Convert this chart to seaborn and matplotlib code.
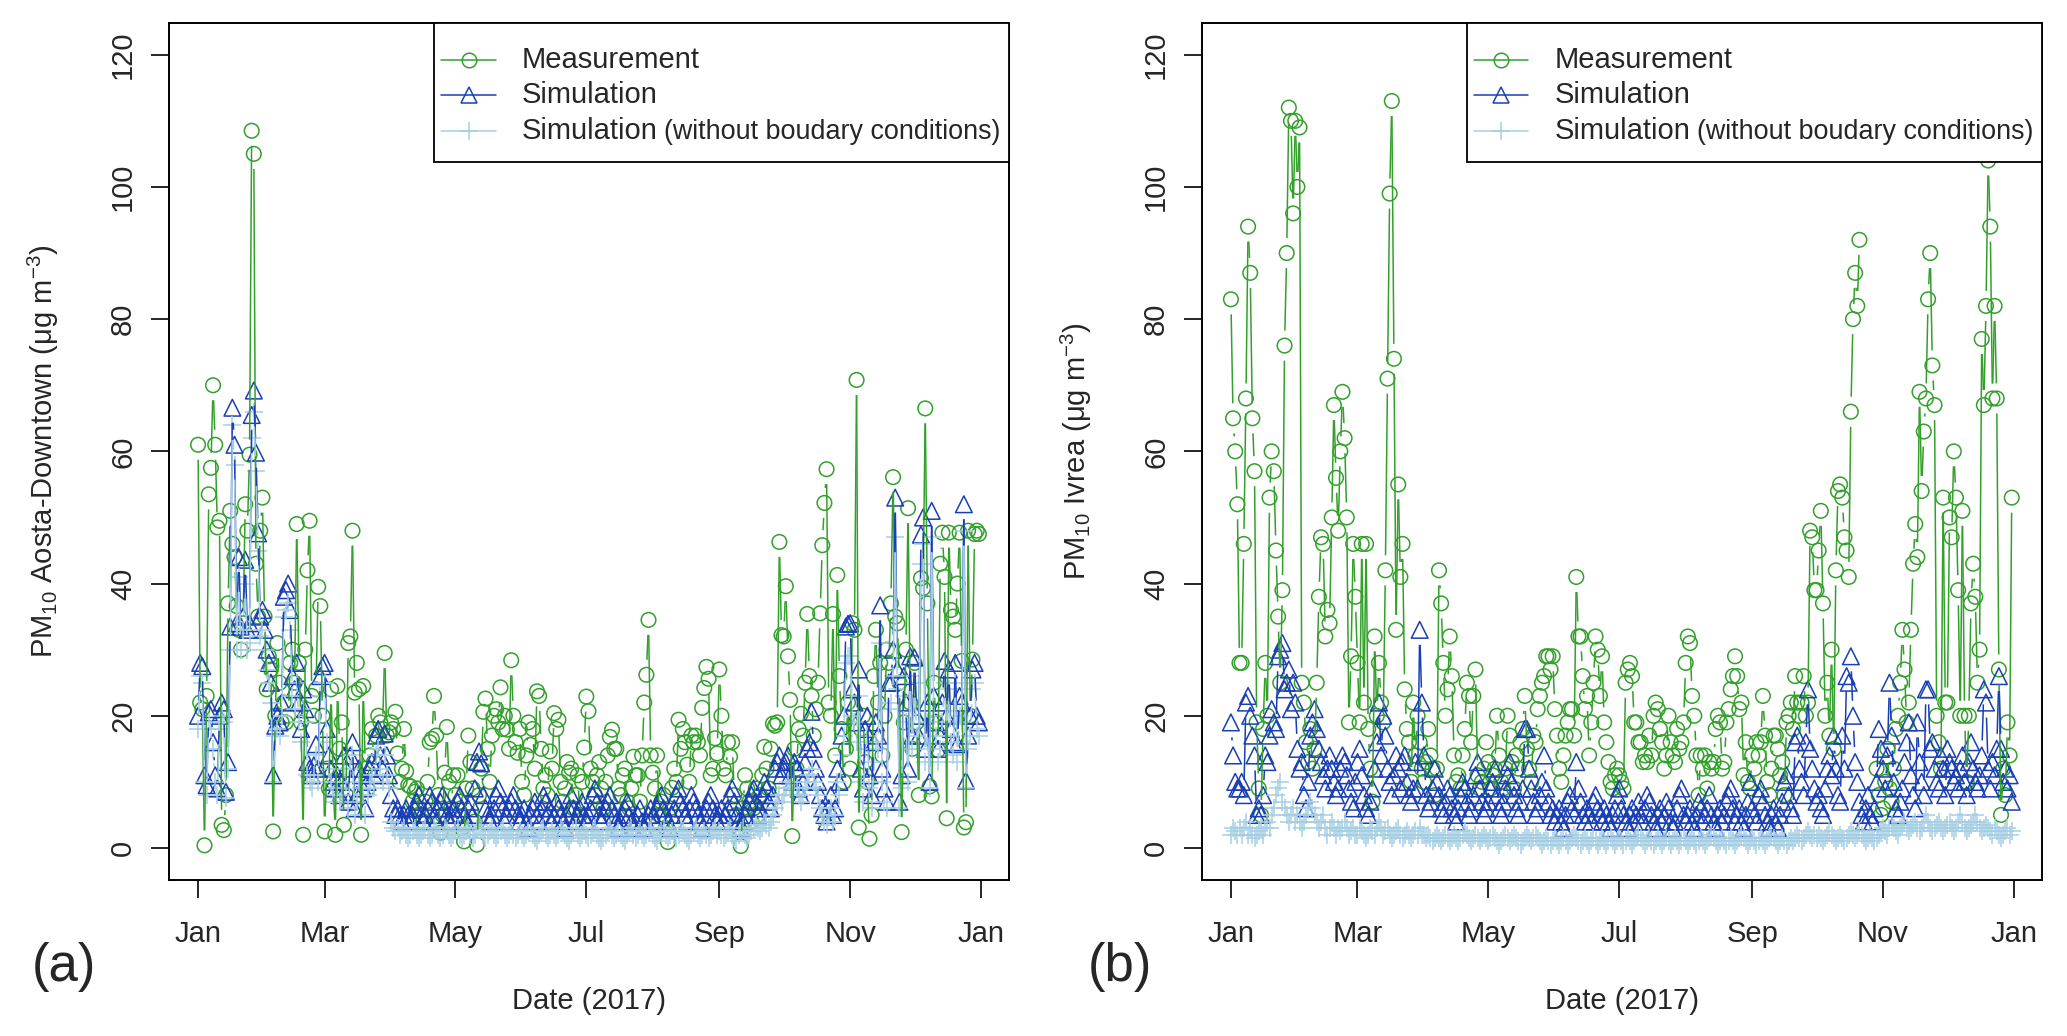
import numpy as np
import pandas as pd
import matplotlib
matplotlib.use("Agg")
import matplotlib.pyplot as plt
import seaborn as sns
from matplotlib.collections import LineCollection
from matplotlib.lines import Line2D
from matplotlib.offsetbox import AnchoredOffsetbox, HPacker, VPacker, TextArea, DrawingArea

GREEN = "#33a02c"
BLUE = "#1a3fb5"
LIGHT = "#a6cee3"

# daily PM10 (ug/m3), 2017, one row per month
meas_a = [
    61, 22, 21, 0.4, 23, 53.5, 57.5, 70, 61, 48.5, 49.5, 3.5, 2.7, 8, 37, 51, 46, 44, 36.6, 33, 30, 34, 52, 48, 59.5, 108.5, 105, 43, 35, 48, 53,
    35, 24, 29, 27, 2.5, 20, 31, 25, 19, 22, 19, 20, 28, 30, 25, 49, 28, 19, 2, 30, 42, 49.5, 23, 20, 24, 39.5, 36.6, 20,
    2.5, 12, 9, 24, 10, 2, 24.5, 15, 19, 3.5, 8, 31, 32, 48, 23.5, 28, 24, 2, 24.5, 12, 9, 14, 18, 13, 17, 20, 19, 18, 29.5, 17, 17.5,
    19, 18, 20.6, 14.3, 10, 12, 18, 11.6, 9.5, 9.3, 7, 8.5, 9, 6, 5, 4, 7, 10, 16, 16.5, 23, 17, 8, 2.3, 5, 11.4, 18.3, 10, 6, 11,
    8, 11, 7, 3, 1, 9, 17, 13, 9, 4, 0.5, 8, 12, 20.6, 22.6, 15, 10, 17, 20, 21, 19, 24.3, 18, 20, 17.9, 15, 28.4, 20, 16, 14.4, 18,
    10, 8, 14, 19, 15.6, 18, 12, 23.7, 23, 15, 9, 11, 8, 14.6, 12, 20.4, 18, 19.4, 10, 7, 9, 13, 11.4, 12, 6, 8, 11, 5, 10, 15.2,
    22.9, 20.7, 12, 10, 8, 11, 13, 9, 6, 10, 14, 16.8, 17.9, 15, 15, 9, 8, 11, 12, 7, 6, 9, 13.8, 11, 11, 7, 14, 22, 26.2, 34.5, 14,
    11.4, 9, 14, 5, 7, 8, 3, 0.9, 6, 9.1, 12, 10, 19.4, 15, 18, 16, 12.6, 10, 17, 16, 17, 16, 14, 21.2, 24.2, 27.4, 25.6, 11, 12, 16.6, 14.3,
    27, 20, 12, 11, 16, 13.8, 16, 8, 5, 3, 0.3, 6, 11, 9, 7, 4, 6, 9, 5, 8, 11, 15.3, 12, 9, 15, 18.8, 18.5, 19, 46.3, 32.2,
    32, 39.6, 29, 22.4, 1.8, 15, 12, 18, 20.3, 17, 25, 35.4, 26, 23, 17, 21, 25, 35.5, 45.8, 52.2, 57.3, 22, 20, 35.4, 14, 41.3, 26, 18, 10, 15, 22,
    12, 34, 33, 70.8, 3.1, 18, 20, 13, 10, 1.4, 5, 26, 33, 22, 28, 14, 20, 30, 28, 37, 56.1, 35, 34, 25, 2.4, 19, 30, 51.4, 22, 15,
    28, 19, 8, 40.8, 39.3, 66.5, 37, 9.3, 7.8, 25, 19, 14.8, 43, 47.7, 41, 4.5, 47.7, 36, 35, 33, 40, 47.7, 28.3, 3.1, 3.9, 48, 20, 28.5, 47.5, 48, 47.5,
]
sim_a = [
    20, 28, 27.5, 11, 9.5, 20.5, 21, 16, 11, 9, 20, 22, 21, 8.5, 13, 33.5, 66.6, 61, 34, 44, 33.5, 35, 43.6, 33, 34, 65.5, 69.2, 59.8, 47.6, 35, 36,
    33, 30, 28, 25, 11, 18.5, 20, 19, 22, 38, 39, 40, 36, 26, 24, 28, 22, 18, 24, 21, 13, 12, 11, 12.5, 15.7, 12, 26, 27.5,
    28, 18, 14, 12, 10, 9, 11, 8, 10, 14, 12, 7, 14, 16, 6, 8, 12, 11, 9, 6, 10, 12, 13, 11, 17, 18, 14, 12, 17.3, 14, 11,
    8, 6, 5, 6, 5, 4, 5, 6, 5, 4, 5, 6, 7, 8, 5, 4, 5, 6, 8, 7, 5, 4, 6, 7, 8, 6, 5, 4, 5, 6,
    5, 7, 8, 6, 5, 4, 6, 7, 5, 9, 13, 14.6, 12.8, 8, 6, 5, 4, 5, 6, 8, 9, 7, 6, 4, 5, 6, 7, 8, 6, 5, 4,
    5, 6, 4, 3, 5, 6, 7, 5, 4, 6, 8, 7, 5, 6, 4, 5, 7, 6, 5, 4, 3, 5, 6, 8, 6, 4, 5, 6, 7, 5,
    4, 5, 6, 8, 9, 7, 5, 4, 5, 6, 7, 8, 6, 5, 4, 3, 4, 5, 6, 7, 5, 4, 3, 4, 5, 6, 4, 3, 4, 5, 6,
    5, 4, 6, 7, 8, 6, 5, 4, 3, 5, 6, 8, 9, 7, 6, 5, 4, 6, 8, 7, 6, 5, 4, 3, 5, 6, 7, 8, 6, 5, 4,
    5, 6, 4, 5, 6, 8, 9, 7, 5, 4, 3, 4, 5, 6, 7, 8, 9, 7, 5, 6, 8, 10, 9, 7, 6, 8, 12, 13, 14, 11,
    12, 13, 14, 11, 10, 13, 12, 9, 8, 10, 13, 15, 16, 20.6, 15, 12, 10, 8, 6, 5, 4, 6, 8, 5, 6, 12, 10, 17, 20, 33.5, 33.9,
    34, 24, 22, 19, 27, 12, 9, 18, 20, 11, 8, 16, 19, 17, 36.7, 12, 9, 7, 25, 25, 30, 53, 27, 7, 11, 26, 22, 12, 29, 17,
    28.8, 20, 17, 47.4, 50, 15, 22, 10, 51, 23, 19, 15, 17, 22, 28.3, 20, 27, 18, 16, 28, 15.7, 23, 22, 52, 10.2, 17, 20, 27, 28, 20, 19,
]
nbc_a = [
    18, 26, 25, 10, 8, 19, 18, 15, 10, 8, 18, 20, 19, 7.5, 12, 30, 64, 58, 30, 41, 30, 33, 40, 30, 31, 62, 66, 57, 45, 32, 33,
    30, 27, 25, 22, 10, 17, 18, 17, 20, 35, 36, 37, 33, 23, 21, 25, 19, 16, 21, 19, 11, 10, 9, 11, 14, 10, 23, 25,
    25, 16, 12, 10, 8, 7, 9, 7, 8, 12, 10, 6, 12, 14, 5, 7, 10, 9, 8, 5, 8, 10, 11, 9, 14, 15, 12, 10, 14, 11, 9,
    4, 3, 2.5, 3, 2, 2.5, 3, 2, 1.5, 2, 2.5, 3, 2, 1.5, 2, 2.5, 3, 2, 1.5, 2, 3, 2.5, 2, 1.5, 2, 3, 2.5, 2, 1.5, 2,
    2.5, 3, 2, 1.5, 2, 2.5, 3, 2, 1.5, 2, 3, 3.5, 3, 2, 1.5, 2, 2.5, 3, 2, 1.5, 2, 2.5, 3, 2, 1.5, 2, 2.5, 2, 1.5, 2, 2.5,
    2, 1.5, 2, 2.5, 3, 2, 1.5, 1, 2, 2.5, 3, 2, 1.5, 2, 2.5, 2, 1.5, 2, 3, 2.5, 2, 1.5, 1, 2, 2.5, 3, 2, 1.5, 2, 2.5,
    2, 1.5, 2, 2.5, 3, 2, 1.5, 1, 1.5, 2, 2.5, 3, 2, 1.5, 2, 2.5, 2, 1.5, 1, 2, 2.5, 3, 2, 1.5, 2, 2.5, 2, 1.5, 2, 2.5, 3,
    2, 1.5, 1, 2, 2.5, 3, 2, 1.5, 2, 2.5, 2, 1.5, 2, 3, 2.5, 2, 1.5, 1, 2, 2.5, 3, 2, 1.5, 2, 2.5, 2, 1.5, 2, 2.5, 3, 2,
    2.5, 2, 1.5, 2, 2.5, 3, 2, 1.5, 1, 2, 2.5, 3, 2, 1.5, 2, 2.5, 3, 3.5, 3, 2.5, 3, 4, 3.5, 3, 4, 5, 6, 7, 8, 7,
    8, 9, 10, 9, 8, 10, 9, 8, 7, 8, 9, 10, 11, 12, 10, 9, 8, 6, 5, 4, 3.5, 5, 6, 4, 5, 10, 8, 14, 17, 28, 29,
    29, 20, 19, 16, 23, 10, 7, 15, 17, 9, 6, 13, 16, 15, 31, 10, 7, 6, 21, 22, 26, 47, 24, 6, 9, 23, 19, 10, 26, 15,
    25, 17, 15, 43, 46, 13, 19, 9, 47, 20, 17, 13, 15, 19, 25, 17, 24, 16, 14, 25, 13, 20, 19, 48, 9, 15, 17, 24, 25, 18, 17,
]
meas_b = [
    83, 65, 60, 52, 28, 28, 46, 68, 94, 87, 65, 57, 19, 9, 5, 18, 28, 20, 53, 60, 57, 45, 35, 25, 39, 76, 90, 112, 110, 96, 110,
    100, 109, 25, 22, 16, 13, 18, 12, 15, 25, 38, 47, 46, 32, 36, 34, 50, 67, 56, 48, 60, 69, 62, 50, 19, 29, 46, 38,
    28, 19, 46, 22, 46, 18, 12, 7, 32, 20, 28, 22, 19, 42, 71, 99, 113, 74, 33, 55, 41, 46, 24, 18, 16, 10, 22, 14, 20, 16, 12,
    10, 13, 18, 14, 12, 8, 12, 42, 37, 28, 20, 24, 32, 26, 14, 10, 11, 9, 14, 18, 25, 23, 16, 23, 27, 11, 9, 10, 12, 16,
    13, 9, 11, 12, 20, 14, 10, 9, 12, 20, 17, 13, 9, 14, 12, 16, 18, 23, 15, 12, 10, 17, 16, 21, 23, 25, 26, 29, 29, 27, 29,
    21, 17, 12, 10, 14, 17, 19, 21, 21, 17, 41, 32, 32, 26, 21, 23, 14, 19, 25, 32, 30, 23, 29, 19, 16, 13, 10, 9, 11, 12,
    11, 10, 9, 25, 27, 28, 26, 19, 19, 16, 16, 13, 14, 13, 17, 14, 20, 22, 21, 18, 16, 12, 14, 20, 16, 14, 13, 18, 15, 16, 19,
    28, 32, 31, 23, 20, 14, 8, 14, 12, 14, 9, 13, 12, 13, 18, 20, 19, 12, 13, 19, 21, 24, 26, 29, 26, 21, 22, 11, 16, 10, 9,
    14, 12, 16, 14, 16, 23, 17, 10, 8, 12, 17, 17, 15, 11, 13, 8, 19, 20, 22, 18, 26, 22, 20, 22, 26, 20, 22, 48, 47, 39,
    39, 45, 51, 37, 20, 25, 17, 30, 15, 42, 54, 55, 53, 47, 45, 41, 66, 80, 87, 82, 92, None, None, None, None, None, None, None, 12, 8, 5,
    6, 10, 15, 9, 7, 12, 18, 20, 25, 33, 27, 19, 22, 33, 43, 49, 44, 69, 54, 63, 68, 83, 90, 73, 67, 20, 16, 12, 53, 22,
    22, 50, 47, 60, 53, 39, 20, 51, 20, 10, 20, 37, 43, 38, 25, 30, 77, 67, 82, 104, 94, 68, 82, 68, 27, 5, 12, 8, 19, 14, 53,
]
sim_b = [
    19, 14, 10, 9, 9, 10, 8, 22, 23, 20, 17, 14, 5, 6, 5, 8, 14, 13, 17, 21, 19, 18, 29, 30, 31, 24, 25, 27, 21, 25, 22,
    15, 12, 13, 8, 6, 10, 17, 19, 21, 18, 15, 13, 11, 9, 12, 14, 12, 10, 8, 9, 12, 14, 13, 11, 9, 7, 6, 10,
    13, 15, 11, 8, 6, 5, 7, 9, 12, 16, 22, 14, 20, 17, 12, 10, 8, 11, 14, 12, 9, 13, 14, 10, 8, 7, 9, 13, 9, 33, 22,
    14, 8, 6, 7, 9, 12, 10, 8, 6, 5, 7, 9, 8, 6, 5, 4, 6, 8, 10, 9, 7, 5, 6, 8, 11, 13, 9, 7, 5, 6,
    7, 9, 10, 12, 8, 6, 5, 7, 9, 11, 13, 10, 8, 6, 5, 7, 9, 18, 18, 12, 9, 7, 5, 6, 8, 10, 14, 9, 7, 5, 6,
    4, 5, 6, 4, 3, 5, 7, 8, 6, 5, 13, 9, 7, 5, 4, 6, 5, 4, 7, 8, 6, 5, 4, 6, 5, 4, 3, 5, 6, 8,
    9, 6, 5, 4, 3, 5, 6, 4, 5, 7, 5, 4, 6, 8, 7, 5, 4, 3, 5, 6, 4, 5, 7, 6, 4, 3, 4, 6, 8, 9, 5,
    4, 5, 6, 4, 3, 5, 7, 6, 4, 5, 6, 8, 5, 4, 3, 5, 6, 4, 5, 7, 8, 9, 6, 4, 5, 6, 4, 3, 5, 7, 10,
    6, 5, 4, 8, 9, 7, 5, 4, 3, 5, 6, 4, 3, 5, 7, 10, 11, 8, 6, 5, 16, 17, 12, 10, 8, 16, 24, 15, 12, 9,
    7, 8, 6, 5, 9, 12, 14, 11, 17, 12, 8, 7, 17, 12, 26, 25, 29, 20, 13, 10, 7, 5, 4, 6, 8, 5, 4, 6, 10, 18, 15,
    12, 9, 14, 25, 17, 10, 6, 5, 7, 9, 13, 16, 19, 11, 8, 6, 19, 13, 10, 8, 24, 24, 15, 16, 12, 10, 9, 14, 12, 8,
    15, 13, 12, 10, 11, 9, 12, 14, 10, 8, 13, 16, 12, 10, 9, 11, 14, 24, 22, 12, 9, 13, 11, 15, 26, 15, 10, 12, 9, 11, 7,
]
nbc_b = [
    2, 3, 2.5, 2, 3, 2, 3, 4, 2, 3, 2, 1.5, 2, 2.5, 3, 2, 3, 4, 3, 5, 6, 8, 9, 10, 7, 6, 5, 4, 5, 6, 4,
    5, 4, 3, 4, 5, 6, 7, 6, 5, 4, 3, 4, 5, 3, 2, 3, 4, 3, 2, 3, 2.5, 3, 4, 3, 2, 2.5, 3, 2,
    2, 3, 2.5, 2, 1.5, 2, 3, 2.5, 2, 3, 4, 3, 2, 2.5, 3, 2, 1.5, 2, 2.5, 3, 2, 1.5, 2, 2.5, 2, 1.5, 2, 2.5, 2, 3, 2,
    2, 1.5, 2, 1.5, 1, 1.5, 2, 1.5, 1, 1.5, 2, 1.5, 1, 1.5, 2, 1.5, 1, 1.5, 2, 2.5, 2, 1.5, 1, 1.5, 2, 1.5, 1, 1.5, 2, 1.5,
    1, 1.5, 2, 1.5, 1, 0.5, 1, 1.5, 2, 1.5, 1, 1.5, 2, 1.5, 1, 0.5, 1, 1.5, 2, 1.5, 1, 1.5, 2, 1.5, 1, 0.5, 1, 1.5, 1, 0.5, 1,
    1.5, 1, 0.5, 1, 1.5, 1, 0.5, 1, 1.5, 2, 1.5, 1, 0.5, 1, 1.5, 1, 0.5, 1, 1.5, 1, 0.5, 1, 1.5, 1, 0.5, 1, 1.5, 1, 0.5, 1,
    1.5, 1, 0.5, 1, 1.5, 1, 0.5, 1, 1.5, 2, 1.5, 1, 0.5, 1, 1.5, 1, 0.5, 1, 1.5, 1, 0.5, 1, 1.5, 1, 0.5, 1, 1.5, 1, 0.5, 1, 1.5,
    1, 0.5, 1, 1.5, 1, 0.5, 1, 1.5, 1, 0.5, 1, 1.5, 2, 1.5, 1, 0.5, 1, 1.5, 1, 0.5, 1, 1.5, 1, 0.5, 1, 1.5, 2, 1.5, 1, 0.5, 1,
    1.5, 1, 0.5, 1, 1.5, 1, 0.5, 1, 1.5, 2, 1.5, 1, 0.5, 1, 1.5, 1, 0.5, 1, 1.5, 1, 1.5, 2, 1.5, 1, 1.5, 2, 2.5, 2, 1.5, 2,
    1.5, 2, 1.5, 1, 1.5, 2, 2.5, 2, 1.5, 1, 1.5, 2, 1.5, 1, 1.5, 2, 2.5, 2, 1.5, 2, 2.5, 2, 1.5, 1, 1.5, 2, 1.5, 1, 1.5, 2, 2.5,
    3, 2.5, 2, 3, 3.5, 3, 2.5, 2, 3, 3.5, 4, 3, 2.5, 3, 3.5, 4, 3, 2.5, 3, 4, 5, 4, 3, 2.5, 3, 3.5, 4, 3, 2.5, 3,
    3.5, 4, 3, 2.5, 3, 4, 5, 4, 3, 2.5, 3, 3.5, 4, 5, 4, 3, 2.5, 3, 3.5, 3, 2.5, 2, 3, 2.5, 2, 1.5, 2, 2.5, 3, 2, 2.5,
]

stations = ["Aosta-Downtown", "Ivrea"]
panel_tags = ["(a)", "(b)"]
series_names = ["Measurement", "Simulation", "Simulation"]
tick_labels = ["Jan", "Mar", "May", "Jul", "Sep", "Nov", "Jan"]

start = pd.Timestamp("2017-01-01")
tick_days = (pd.date_range(start, "2018-01-01", freq="2MS") - start).days.to_numpy()

# colour, marker, marker size (pt) for measurement / simulation / no-BC simulation
styles = [(GREEN, "o", 10.5), (BLUE, "^", 12), (LIGHT, "+", 13)]

sns.set_style("ticks")
plt.rcParams["font.family"] = ["Liberation Sans", "DejaVu Sans"]
plt.rcParams["mathtext.fontset"] = "custom"
plt.rcParams["mathtext.rm"] = "Liberation Sans"
plt.rcParams["mathtext.it"] = "Liberation Sans:italic"
plt.rcParams["mathtext.bf"] = "Liberation Sans:bold"

FS = 21
XLIM = (-13.5, 378.1)
YLIM = (-4.84, 124.8)


def draw_b(ax, vals, color, marker, ms, gap=15):
    # R's type="b": points plus lines that stop short of each point
    y = np.array([np.nan if v is None else v for v in vals], dtype=float)
    x = np.arange(len(y), dtype=float)
    ok = ~np.isnan(y)
    pix = ax.transData.transform(np.column_stack([x, np.where(ok, y, 0.0)]))
    inv = ax.transData.inverted()
    segs = []
    for i in range(len(y) - 1):
        if not (ok[i] and ok[i + 1]):
            continue
        d = pix[i + 1] - pix[i]
        L = np.hypot(d[0], d[1])
        if L <= 2 * gap:
            continue
        u = d / L * gap
        segs.append(inv.transform(np.array([pix[i] + u, pix[i + 1] - u])))
    ax.add_collection(LineCollection(segs, colors=color, linewidths=1.1))
    kw = dict(color=color, linewidth=1.1)
    if marker != "+":
        kw.update(facecolor="none", edgecolor=color)
    sns.scatterplot(x=x[ok], y=y[ok], ax=ax, marker=marker, s=ms ** 2, legend=False, **kw)


def legend_box(ax):
    rows = []
    for i, (color, marker, ms) in enumerate(styles):
        da = DrawingArea(44.4, 25.6, 0, 0)
        da.add_artist(Line2D([5.4, 44.4], [12.8, 12.8], color=color, lw=1.1))
        da.add_artist(Line2D([24.9], [12.8], marker=marker, ms=ms, mfc="none",
                             mec=color, mew=1.1, linestyle="none"))
        texts = [TextArea(series_names[i], textprops=dict(size=FS))]
        if i == 2:
            texts.append(TextArea("(without boudary conditions)", textprops=dict(size=19.4)))
        label = HPacker(children=texts, align="baseline", pad=0, sep=5)
        entry = HPacker(children=[da, label], align="center", pad=0, sep=18.7)
        rows.append(HPacker(children=[entry, DrawingArea(6, 1)], align="center", pad=0, sep=0))
    col = VPacker(children=[DrawingArea(1, 13.7)] + rows + [DrawingArea(1, 9.7)],
                  align="left", pad=0, sep=0)
    box = AnchoredOffsetbox(loc="upper right", child=col, pad=0, borderpad=0, frameon=True,
                            bbox_to_anchor=(1, 1), bbox_transform=ax.transAxes)
    box.patch.set_edgecolor("black")
    box.patch.set_linewidth(1.3)
    box.set_zorder(10)
    ax.add_artist(box)


fig = plt.figure(figsize=(20.67, 10.36), dpi=100)
axes = [fig.add_axes([0.0818, 0.1506, 0.4064, 0.8272]),
        fig.add_axes([0.5815, 0.1506, 0.4064, 0.8272])]
data = [(meas_a, sim_a, nbc_a), (meas_b, sim_b, nbc_b)]
tag_x = [0.031, 0.542]

for k, ax in enumerate(axes):
    ax.set_xlim(*XLIM)
    ax.set_ylim(*YLIM)
    for vals, (color, marker, ms) in zip(data[k], styles):
        draw_b(ax, vals, color, marker, ms)
    ax.set_xlim(*XLIM)
    ax.set_ylim(*YLIM)

    ax.set_xticks(tick_days, tick_labels)
    ax.set_yticks(np.arange(0, 121, 20))
    ax.tick_params(axis="both", direction="out", length=13, width=1.2, labelsize=FS, color="black")
    ax.tick_params(axis="x", pad=16)
    ax.tick_params(axis="y", pad=10, labelrotation=90)
    for t in ax.get_yticklabels():
        t.set_verticalalignment("center")

    ax.set_xlabel("Date (2017)", fontsize=FS)
    ax.set_ylabel("PM$_{10}$ " + stations[k] + " (μg m$^{-3}$)", fontsize=FS)
    ax.xaxis.set_label_coords(0.5, -0.141)
    ax.xaxis.label.set_verticalalignment("center")
    ax.yaxis.set_label_coords(-0.15, 0.5)
    ax.yaxis.label.set_verticalalignment("center")
    for s in ax.spines.values():
        s.set_visible(True)
        s.set_linewidth(1.4)
        s.set_color("black")

    legend_box(ax)
    fig.text(tag_x[k], 0.0666, panel_tags[k], fontsize=38, ha="center", va="center")

fig.savefig("out.png", dpi=100)
